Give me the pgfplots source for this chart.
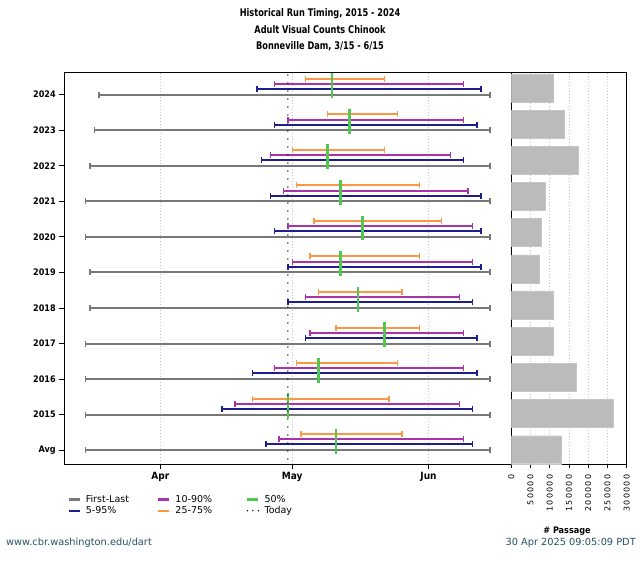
\documentclass[border=0pt]{standalone}
\usepackage{pgfplots}
\pgfplotsset{compat=1.18}
\usepackage{pgfplotstable}
\usepackage{fontspec}
\setmainfont{DejaVu Sans}
\newfontfamily\condfont{DejaVu Sans Condensed}
\newfontfamily\titlefont[FakeStretch=0.87]{DejaVu Sans Condensed}
\newfontfamily\tickfont[LetterSpace=16]{DejaVu Sans}
\definecolor{cgray}{RGB}{120,120,120}
\definecolor{cnavy}{RGB}{30,30,140}
\definecolor{cpurp}{RGB}{170,50,170}
\definecolor{corng}{RGB}{255,150,70}
\definecolor{cgrn}{RGB}{80,200,80}
\definecolor{cbar}{RGB}{187,187,187}
\definecolor{cfoot}{RGB}{40,80,100}

% row: 1 = Avg, 2 = 2015, ..., 11 = 2024 ; values are day of year
\pgfplotstableread{
r lo hi
11 77 166
10 76 166
9 75 166
8 74 166
7 74 166
6 75 166
5 75 166
4 74 166
3 74 166
2 74 166
1 74 166
}\tfl
\pgfplotstableread{
r lo hi
11 113 164
10 117 163
9 114 160
8 116 164
7 117 164
6 120 164
5 120 162
4 124 163
3 112 163
2 105 162
1 115 162
}\tnavy
\pgfplotstableread{
r lo hi
11 117 160
10 120 160
9 116 157
8 119 161
7 120 162
6 121 162
5 124 159
4 125 160
3 117 160
2 108 159
1 118 160
}\tpurp
\pgfplotstableread{
r lo hi
11 124 142
10 129 145
9 121 142
8 122 150
7 126 155
6 125 150
5 127 146
4 131 150
3 122 145
2 112 143
1 123 146
}\torng
\pgfplotstableread{
r m
11 130
10 134
9 129
8 132
7 137
6 132
5 136
4 142
3 127
2 120
1 131
}\tmed
\pgfplotstableread{
r v
11 109000
10 137000
9 174000
8 88000
7 78000
6 72000
5 109000
4 108000
3 169000
2 266000
1 131000
}\tbar

\pgfplotsset{
  seg/.style={draw=none, mark=none, forget plot,
    error bars/.cd, x dir=plus, x explicit, error mark=none,
    error bar style={draw=#1, line width=2pt}},
  cap/.style={only marks, mark=|, mark size=3pt,
    mark options={draw=#1, line width=1.5pt}, forget plot},
}
\newcommand\rng[3]{%
  \addplot[seg=#2] table[x=lo, y expr={\thisrow{r}+#3},
    x error expr={\thisrow{hi}-\thisrow{lo}}] {#1};
  \addplot[cap=#2] table[x=lo, y expr={\thisrow{r}+#3}] {#1};
  \addplot[cap=#2] table[x=hi, y expr={\thisrow{r}+#3}] {#1};
}

\begin{document}
\begin{tikzpicture}[x=1pt,y=1pt]
\path[use as bounding box] (0,0) rectangle (640,560);

\begin{axis}[
  at={(64.3pt,96pt)}, anchor=south west,
  scale only axis, width=447pt, height=391.7pt,
  xmin=69.13, xmax=170.84, ymin=0.61, ymax=11.63,
  xtick={91,121,152}, xticklabels={Apr,May,Jun},
  ytick={1,2,3,4,5,6,7,8,9,10,11},
  yticklabels={Avg,2015,2016,2017,2018,2019,2020,2021,2022,2023,2024},
  tick align=outside, xtick pos=bottom, ytick pos=left,
  major tick length=5pt,
  yticklabel style={font=\condfont\bfseries\fontsize{9}{10}\selectfont},
  xticklabel style={font=\condfont\bfseries\fontsize{10}{11}\selectfont},
  xmajorgrids, grid style={gray!45, dash pattern=on 1pt off 2pt, line width=0.6pt},
  axis line style={black, line width=0.8pt},
  tick style={black, line width=0.8pt},
  legend columns=3,
  legend cell align=left,
  legend image code/.code={\draw[#1] (0pt,0pt) -- (11pt,0pt);},
  legend style={at={(0.004,-0.0715)}, anchor=north west, draw=none, fill=none,
    font=\fontsize{9.5}{10}\selectfont, row sep=-1.5pt, inner sep=1pt,
    /tikz/every odd column/.append style={column sep=3pt},
    /tikz/column 2/.append style={column sep=26pt},
    /tikz/column 4/.append style={column sep=32pt}},
]
\rng{\tfl}{cgray}{0}
\rng{\tnavy}{cnavy}{0.16}
\rng{\tpurp}{cpurp}{0.30}
\rng{\torng}{corng}{0.45}
\addplot[draw=none, mark=none, forget plot,
  error bars/.cd, y dir=both, y explicit, error mark=none,
  error bar style={draw=cgrn, line width=2.4pt}]
  table[x=m, y expr={\thisrow{r}+0.25}, y error expr={0.35}] {\tmed};
\addplot[black, line width=1.5pt, line cap=round, dash pattern=on 0pt off 8pt, forget plot]
  coordinates {(120,0.75) (120,11.63)};

\addlegendimage{cgray, line width=2.5pt}
\addlegendentry{First-Last}
\addlegendimage{cpurp, line width=2.5pt}
\addlegendentry{10-90\%}
\addlegendimage{cgrn, line width=2.5pt}
\addlegendentry{50\%}
\addlegendimage{cnavy, line width=2.5pt}
\addlegendentry{5-95\%}
\addlegendimage{corng, line width=2.5pt}
\addlegendentry{25-75\%}
\addlegendimage{black, line width=1.6pt, line cap=round, dash pattern=on 0pt off 5.5pt}
\addlegendentry{Today}
\end{axis}

\begin{axis}[
  at={(511.3pt,96pt)}, anchor=south west,
  scale only axis, width=115.4pt, height=391.7pt,
  xbar, bar width=28pt,
  xmin=0, xmax=300000, ymin=0.605, ymax=11.43,
  ytick=\empty,
  xtick={0,50000,100000,150000,200000,250000,300000},
  scaled x ticks=false,
  /pgf/number format/fixed, /pgf/number format/1000 sep={},
  /pgf/number format/assume math mode=true,
  xticklabel style={rotate=90, anchor=east, font=\tickfont\fontsize{8}{9}\selectfont},
  xticklabel shift=3pt,
  tick align=outside, xtick pos=bottom,
  major tick length=4pt,
  xmajorgrids, grid style={gray!45, dash pattern=on 1pt off 2pt, line width=0.6pt},
  axis line style={black, line width=0.8pt},
  tick style={black, line width=0.8pt},
]
\addplot[fill=cbar, draw=cbar!85!white] table[x=v, y=r] {\tbar};
\end{axis}

\node[font=\titlefont\bfseries\fontsize{10.5}{12}\selectfont] at (320,546.7) {Historical Run Timing, 2015 - 2024};
\node[font=\titlefont\bfseries\fontsize{10.5}{12}\selectfont] at (320,530) {Adult Visual Counts Chinook};
\node[font=\titlefont\bfseries\fontsize{10.5}{12}\selectfont] at (320,514) {Bonneville Dam, 3/15 - 6/15};
\node[font=\condfont\bfseries\fontsize{9}{10}\selectfont] at (567,29) {\# Passage};
\node[anchor=west, text=cfoot, font=\fontsize{9.8}{10}\selectfont, inner sep=0pt] at (6,17) {www.cbr.washington.edu/dart};
\node[anchor=east, text=cfoot, font=\fontsize{9.8}{10}\selectfont, inner sep=0pt] at (636,17) {30 Apr 2025 09:05:09 PDT};
\end{tikzpicture}
\end{document}
